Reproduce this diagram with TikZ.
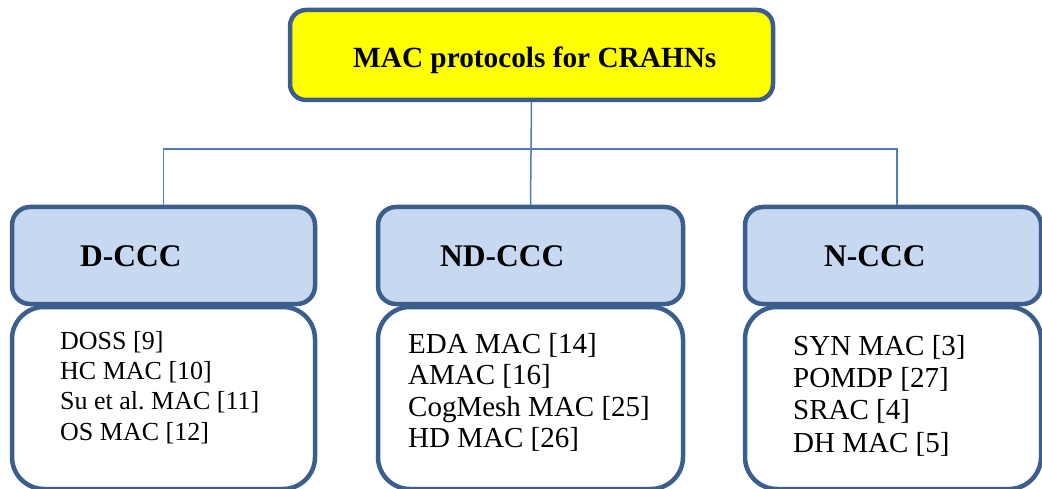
\documentclass[tikz,border=0pt]{standalone}
\usepackage{fontspec}
\setmainfont{Liberation Serif}
\frenchspacing
\definecolor{edge}{HTML}{3B5E8C}
\definecolor{wire}{HTML}{4A7EBB}
\definecolor{headfill}{HTML}{C6D9F1}
\definecolor{titlefill}{HTML}{FFFF00}
\begin{document}
\begin{tikzpicture}[x=1pt,y=-1pt,
  frame/.style={draw=edge, line width=4.5pt, rectangle, inner sep=0pt},
  titlebox/.style={frame, fill=titlefill, rounded corners=16pt, minimum width=483pt, minimum height=90pt},
  headbox/.style={frame, fill=headfill, rounded corners=18pt, minimum height=97pt},
  bodybox/.style={frame, fill=white, rounded corners=32pt, minimum height=182pt},
  titletext/.style={anchor=base west, inner sep=0pt, font=\bfseries\fontsize{29.3}{29.3}\selectfont},
  headtext/.style={anchor=base west, inner sep=0pt, font=\bfseries\fontsize{31.5}{31.5}\selectfont},
  itemsmall/.style={anchor=base west, inner sep=0pt, font=\fontsize{26}{26}\selectfont},
  itemlarge/.style={anchor=base west, inner sep=0pt, font=\fontsize{29}{29}\selectfont},
  wireline/.style={draw=wire, line width=1.5pt}]
\useasboundingbox (0,0) rectangle (1042,489);

% root
\node[titlebox] (root) at (531.5,55) {};
\node[titletext] (roottxt) at (353,68) {MAC protocols for CRAHNs};

% body boxes (drawn first so the header borders sit on top)
\node[bodybox, minimum width=303pt] (dbody) at (163.5,398) {};
\node[bodybox, minimum width=305pt] (ndbody) at (530.5,398) {};
\node[bodybox, minimum width=296pt] (nbody) at (893,398) {};

% headers
\node[headbox, minimum width=303pt] (dhead) at (163.5,255.5) {};
\node[headbox, minimum width=305pt] (ndhead) at (530.5,255.5) {};
\node[headbox, minimum width=296pt] (nhead) at (893,255.5) {};
\node[headtext] (dtxt) at (80,267) {D-CCC};
\node[headtext] (ndtxt) at (440,266) {ND-CCC};
\node[headtext] (ntxt) at (824,266) {N-CCC};

% connectors
\coordinate (nin) at ([xshift=4pt]nhead.north);
\draw[wireline] (root.south) -- (ndhead.north);
\draw[wireline] (root.south) -- ++(0,47) -| (dhead.north);
\draw[wireline] (root.south) -- ++(0,47) -| (nin);

% protocol lists
\node[itemsmall] (d1) at (60,349) {DOSS [9]};
\node[itemsmall] (d2) at (60,379.3) {HC MAC [10]};
\node[itemsmall] (d3) at (60,409.6) {Su et al. MAC [11]};
\node[itemsmall] (d4) at (60,440) {OS MAC [12]};

\node[itemlarge] (nd1) at (408,353) {EDA MAC [14]};
\node[itemlarge] (nd2) at (408,384.5) {AMAC [16]};
\node[itemlarge] (nd3) at (408,416) {CogMesh MAC [25]};
\node[itemlarge] (nd4) at (408,447.3) {HD MAC [26]};

\node[itemlarge] (n1) at (793,355) {SYN MAC [3]};
\node[itemlarge] (n2) at (793,387.3) {POMDP [27]};
\node[itemlarge] (n3) at (793,419.6) {SRAC [4]};
\node[itemlarge] (n4) at (793,452) {DH MAC [5]};
\end{tikzpicture}
\end{document}
